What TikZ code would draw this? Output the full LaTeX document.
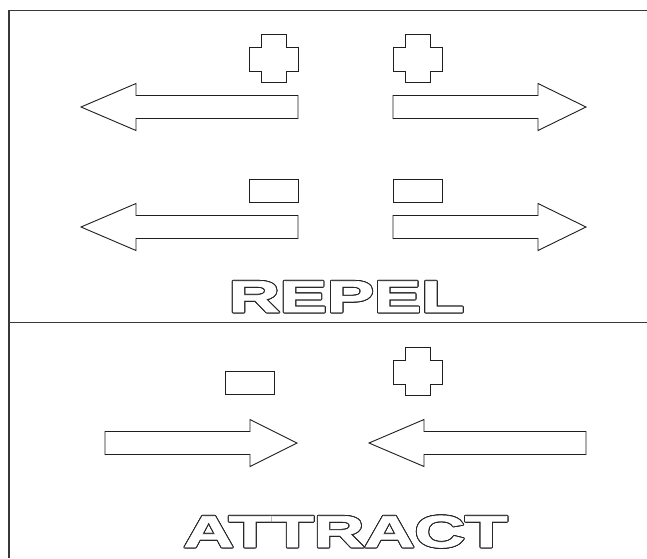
\documentclass[tikz,border=0pt]{standalone}
\usepackage{fontspec}
\newfontfamily\labelfont{Liberation Sans}[BoldFeatures={FakeBold=1.6}]
\usetikzlibrary{calc}

% block arrow: tail x, tip x, centre y, head-base x
\newcommand\blockarrow[4]{%
  \draw[shapeline] (#1,#3-11.5) -- (#4,#3-11.5) -- (#4,#3-23.5) -- (#2,#3)
    -- (#4,#3+23.5) -- (#4,#3+11.5) -- (#1,#3+11.5) -- cycle;}
% plus sign with top-left corner (x0,y0)
\newcommand\chargeplus[2]{%
  \draw[shapeline] (#1+12,#2) -- (#1+37,#2) -- (#1+37,#2+13) -- (#1+49,#2+13)
    -- (#1+49,#2+37) -- (#1+37,#2+37) -- (#1+37,#2+48) -- (#1+12,#2+48)
    -- (#1+12,#2+37) -- (#1,#2+37) -- (#1,#2+13) -- (#1+12,#2+13) -- cycle;}
% minus sign with top-left corner (x0,y0)
\newcommand\chargeminus[2]{%
  \draw[shapeline] (#1,#2) rectangle (#1+49,#2+23);}

\tikzset{
  frameline/.style={draw=black!78, line width=1.4pt},
  shapeline/.style={draw=black!88, line width=0.9pt, line join=miter},
  wordfont/.style={font=\labelfont\bfseries\fontsize{44.7}{50}\selectfont,
    inner sep=0pt, anchor=base},
}

\begin{document}
\begin{tikzpicture}[x=1pt, y=-1pt]
  \useasboundingbox[fill=white] (0,0) rectangle (647,558);

  % frame and divider
  \draw[frameline] (9,558) -- (9,10.5) -- (647,10.5);
  \draw[frameline] (9,322.7) -- (647,322.7);

  % repel: like charges pushed apart
  \chargeplus{249}{34}
  \chargeplus{393}{34}
  \blockarrow{298}{81}{107}{136}
  \blockarrow{393}{586}{107}{538}

  \chargeminus{249}{179}
  \chargeminus{393}{179}
  \blockarrow{298}{81}{227}{136}
  \blockarrow{393}{586}{227}{538}

  % attract: unlike charges pulled together
  \chargeminus{225}{371}
  \chargeplus{393}{347}
  \blockarrow{105}{297}{443}{250}
  \blockarrow{586}{369}{443}{424}

  % hollow lettering: dark copies around a white top layer
  \coordinate (repelbase) at (346.5,312);
  \coordinate (attractbase) at (345.5,547);
  \foreach \a in {0,20,...,340} {
    \node[wordfont, text=black!85] (repelrim\a) at ($(repelbase)+(\a:1)$)
      {\scalebox{1.58}[1]{REPEL}};
    \node[wordfont, text=black!85] (attractrim\a) at ($(attractbase)+(\a:1)$)
      {\scalebox{1.56}[1]{ATTRACT}};
  }
  \node[wordfont, text=white] (repel) at (repelbase) {\scalebox{1.58}[1]{REPEL}};
  \node[wordfont, text=white] (attract) at (attractbase) {\scalebox{1.56}[1]{ATTRACT}};
\end{tikzpicture}
\end{document}
